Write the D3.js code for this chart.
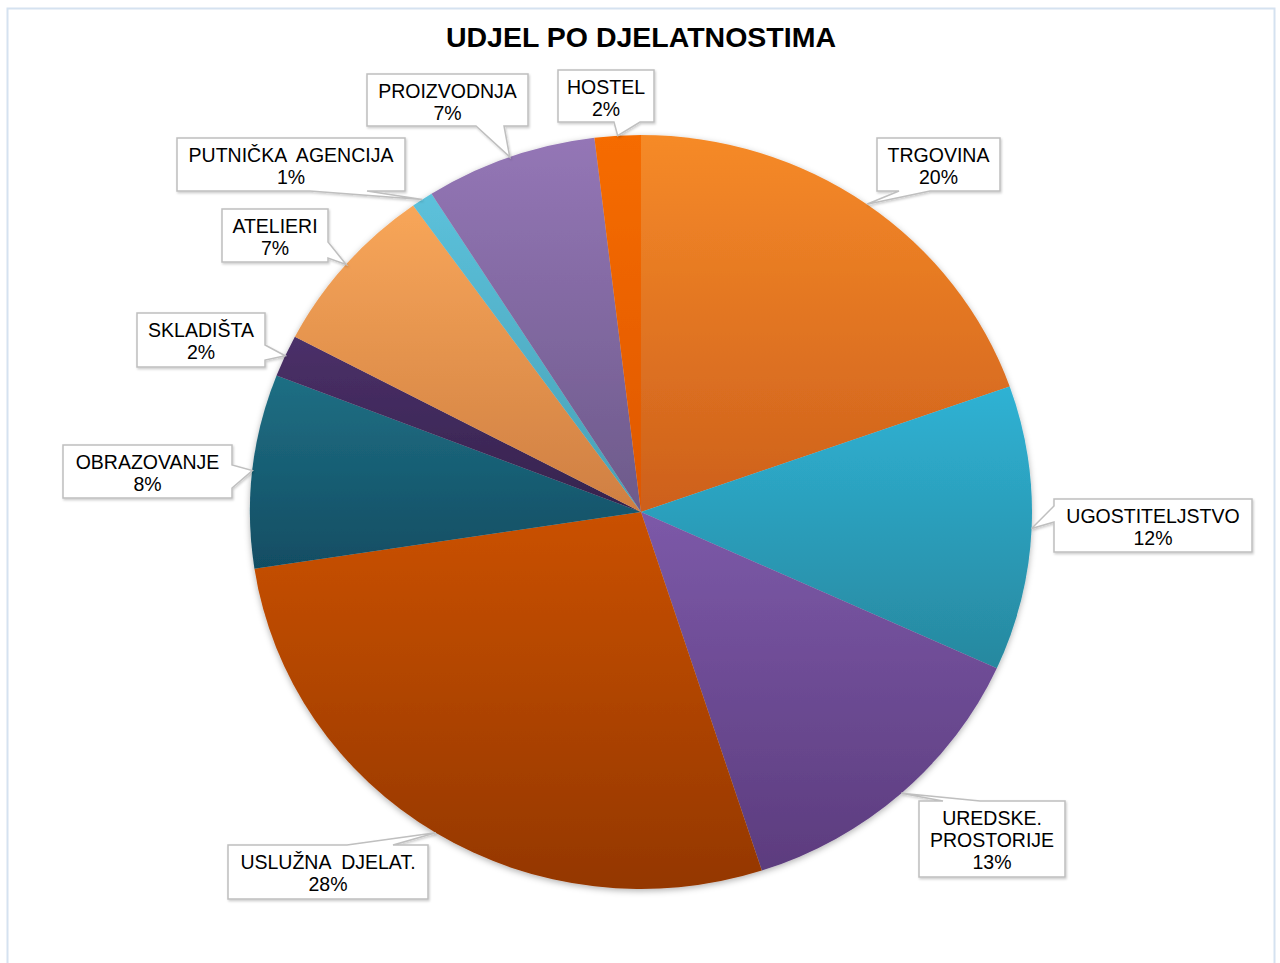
<!DOCTYPE html>
<html>
<head>
<meta charset="utf-8">
<script src="https://cdn.jsdelivr.net/npm/d3@7"></script>
<style>
  body { margin: 0; background: #fff; }
  svg { display: block; font-family: "Liberation Sans", Arial, sans-serif; }
</style>
</head>
<body>
<div class="chart"></div>
<script>
// data (share of each activity, %)
const categories = ["TRGOVINA", "UGOSTITELJSTVO", "UREDSKE.\nPROSTORIJE", "USLUŽNA  DJELAT.", "OBRAZOVANJE",
                    "SKLADIŠTA", "ATELIERI", "PUTNIČKA  AGENCIJA", "PROIZVODNJA", "HOSTEL"];
const values = [19.6, 12.2, 13.2, 27.6, 8.3, 1.8, 7.4, 0.9, 7.1, 1.9];
// gradient colours per slice, top -> bottom
const colorsTop = ["#f68a28", "#2fb2d4", "#7c59a8", "#ca5100", "#1f6f84", "#4b3069", "#f8a659", "#5cc1db", "#9476b6", "#f66c00"];
const colorsBottom = ["#cd601c", "#27889f", "#5c3c7e", "#943700", "#114d63", "#35234d", "#cf7f42", "#48a0b5", "#6d5a8a", "#df5700"];

// callout box layout (x, y, w, h, edge of the tail, tail base from/to along that edge)
const boxes = [
    { x: 877, y: 138, w: 123, h: 53, edge: "bottom", b0: 899, b1: 930 },
    { x: 1054, y: 499, w: 198, h: 53, edge: "left", b0: 506, b1: 522 },
    { x: 919, y: 801, w: 146, h: 76, edge: "top", b0: 943, b1: 980 },
    { x: 228, y: 845, w: 200, h: 54, edge: "top", b0: 347, b1: 393 },
    { x: 63, y: 445, w: 169, h: 53, edge: "right", b0: 465, b1: 488 },
    { x: 137, y: 313, w: 128, h: 54, edge: "right", b0: 345, b1: 360 },
    { x: 222, y: 209, w: 106, h: 53, edge: "right", b0: 242, b1: 258 },
    { x: 177, y: 138, w: 228, h: 53, edge: "bottom", b0: 310, b1: 367 },
    { x: 367, y: 74, w: 161, h: 52, edge: "bottom", b0: 476, b1: 504 },
    { x: 558, y: 70, w: 96, h: 52, edge: "bottom", b0: 614, b1: 640 }
];

const W = 1280, H = 963;
const cx = 641, cy = 512, rx = 391, ry = 377;

const svg = d3.select(".chart").append("svg")
    .attr("width", W)
    .attr("height", H);

const defs = svg.append("defs");

// soft shadow under the pie and the boxes
const sh = defs.append("filter").attr("id", "shadow")
    .attr("x", "-10%").attr("y", "-10%").attr("width", "120%").attr("height", "120%");
sh.append("feDropShadow").attr("dx", 0).attr("dy", 2).attr("stdDeviation", 3)
    .attr("flood-color", "#000").attr("flood-opacity", 0.3);

const bsh = defs.append("filter").attr("id", "boxshadow")
    .attr("x", "-10%").attr("y", "-20%").attr("width", "120%").attr("height", "140%");
bsh.append("feDropShadow").attr("dx", 1).attr("dy", 1.5).attr("stdDeviation", 1)
    .attr("flood-color", "#000").attr("flood-opacity", 0.2);

values.forEach((v, i) => {
    const g = defs.append("linearGradient")
        .attr("id", "grad" + i)
        .attr("x1", 0).attr("y1", 0).attr("x2", 0).attr("y2", 1);
    g.append("stop").attr("offset", "0%").attr("stop-color", colorsTop[i]);
    g.append("stop").attr("offset", "100%").attr("stop-color", colorsBottom[i]);
});

// frame of the chart area
svg.append("rect")
    .attr("x", 7.5).attr("y", 8.5)
    .attr("width", 1267).attr("height", 1000)
    .attr("fill", "none")
    .attr("stroke", "#d5e2f0")
    .attr("stroke-width", 2);

svg.append("text")
    .attr("x", 641)
    .attr("y", 47)
    .attr("text-anchor", "middle")
    .attr("font-size", "28.5px")
    .attr("font-weight", "bold")
    .attr("fill", "#000")
    .text("UDJEL PO DJELATNOSTIMA");

const pie = d3.pie().sort(null).value(d => d)(values);
const arc = d3.arc().innerRadius(0).outerRadius(ry);
const edgeArc = d3.arc().innerRadius(ry).outerRadius(ry);

const pieG = svg.append("g")
    .attr("filter", "url(#shadow)")
    .append("g")
    .attr("transform", "translate(" + cx + "," + cy + ") scale(" + (rx / ry) + ",1)");

pieG.selectAll("path")
    .data(pie)
    .enter().append("path")
    .attr("d", arc)
    .attr("fill", (d, i) => "url(#grad" + i + ")");

// callout labels
const labels = svg.append("g");

pie.forEach((d, i) => {
    const b = boxes[i];
    const c = edgeArc.centroid(d);
    const tip = [cx + c[0] * rx / ry, cy + c[1]];

    // outline: rectangle with a tail on one edge
    const x0 = b.x, y0 = b.y, x1 = b.x + b.w, y1 = b.y + b.h;
    let pts;
    if (b.edge === "bottom") {
        pts = [[x0, y0], [x1, y0], [x1, y1], [b.b1, y1], tip, [b.b0, y1], [x0, y1]];
    } else if (b.edge === "top") {
        pts = [[x0, y0], [b.b0, y0], tip, [b.b1, y0], [x1, y0], [x1, y1], [x0, y1]];
    } else if (b.edge === "right") {
        pts = [[x0, y0], [x1, y0], [x1, b.b0], tip, [x1, b.b1], [x1, y1], [x0, y1]];
    } else {
        pts = [[x0, y0], [x1, y0], [x1, y1], [x0, y1], [x0, b.b1], tip, [x0, b.b0]];
    }

    labels.append("path")
        .attr("d", "M" + pts.map(p => p.join(",")).join("L") + "Z")
        .attr("fill", "#fff")
        .attr("stroke", "#bfbfbf")
        .attr("stroke-width", 1.5)
        .attr("filter", "url(#boxshadow)");

    const lines = categories[i].split("\n");
    lines.push(Math.round(values[i]) + "%");

    const t = labels.append("text")
        .attr("text-anchor", "middle")
        .attr("font-size", "19.5px")
        .attr("fill", "#000")
        .attr("xml:space", "preserve");

    lines.forEach((ln, j) => {
        t.append("tspan")
            .attr("x", b.x + b.w / 2)
            .attr("y", b.y + 24 + j * 22)
            .text(ln);
    });
});
</script>
</body>
</html>
